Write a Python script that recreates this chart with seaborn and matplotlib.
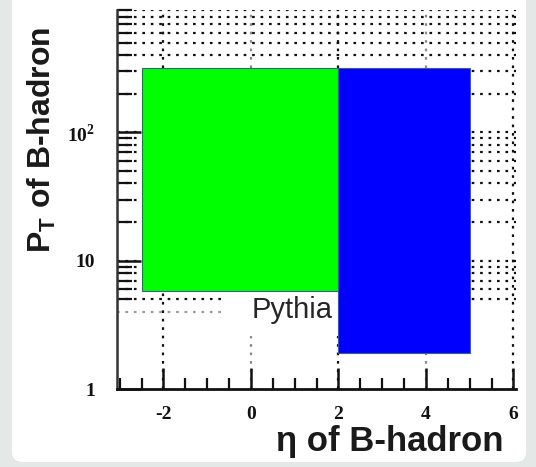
import matplotlib
matplotlib.use("Agg")
import matplotlib.pyplot as plt
from matplotlib.patches import Rectangle, FancyBboxPatch
import seaborn as sns

# Acceptance regions in (eta, pT) of the B-hadron
region_names = ["central", "forward"]
eta_low = [-2.5, 2.0]
eta_high = [2.0, 5.0]
pt_low = [5.8, 1.9]
pt_high = [320.0, 320.0]
region_colors = ["#00ff00", "#0000ff"]

x_ticks = [-2, 0, 2, 4, 6]
x_tick_labels = ["-2", "0", "2", "4", "6"]
y_ticks = [1, 10, 100]
y_tick_labels = ["1", "10", "10$^{\\mathsf{2}}$"]
legend_label = "Pythia"

sns.set_style("white")
plt.rcParams["mathtext.fontset"] = "custom"
plt.rcParams["mathtext.bf"] = "Liberation Sans:bold"
plt.rcParams["mathtext.rm"] = "Liberation Sans:bold"
plt.rcParams["mathtext.sf"] = "Liberation Serif:bold"

W, H = 536, 467
fig = plt.figure(figsize=(W / 100, H / 100), dpi=100)
fig.patch.set_facecolor("#e4e8e6")
# white rounded panel
fig.patches.append(FancyBboxPatch((12 / W, 5 / H), 514 / W, 1.2,
                                  boxstyle="round,pad=0,rounding_size=0.02",
                                  transform=fig.transFigure, fc="white", ec="none",
                                  zorder=0))

ax = fig.add_axes([117 / W, 1 - 389 / H, (516 - 117) / W, (389 - 10) / H])
ax.set_zorder(2)
ax.set_facecolor("none")
ax.set_yscale("log")
ax.set_xlim(-3.06, 6.06)
ax.set_ylim(1, 900)

# dotted grid
dot = (0, (1.2, 2.6))
for xv in x_ticks:
    c = "#111111" if xv in (-2, 2, 6) else "#8a8a8a"
    ax.axvline(xv, color=c, lw=1.6, ls=dot, zorder=0.5)
grid_vals = [5, 6, 7, 8, 9, 10, 20, 30, 40, 50, 60, 70, 80, 90,
             100, 200, 300, 400, 500, 600, 700, 800, 900]
for yv in grid_vals:
    ax.axhline(yv, color="#111111", lw=1.6, ls=dot, zorder=0.5)
ax.hlines(4, -3.06, -0.6, color="#9a9a9a", lw=1.6, ls=dot, zorder=0.5)

# acceptance boxes
for lo, hi, pl, ph, col in zip(eta_low, eta_high, pt_low, pt_high, region_colors):
    ax.bar(lo, ph - pl, width=hi - lo, bottom=pl, align="edge",
           color=col, edgecolor="#3a5f8f", linewidth=0.8, zorder=2)

# legend entry
ax.add_patch(Rectangle((-0.6, 2.6), 2.6, 3.1, fc="white", ec="none", zorder=1.5))
ax.text(0.95, 4.15, legend_label, ha="center", va="center", fontsize=21,
        family="Liberation Sans", color="#262626", zorder=3)

# axes styling
for side in ("top", "right"):
    ax.spines[side].set_visible(False)
ax.spines["left"].set_color("#333333")
ax.spines["left"].set_linewidth(1.8)
ax.spines["bottom"].set_color("#111111")
ax.spines["bottom"].set_linewidth(2.0)

ax.set_xticks(x_ticks)
ax.set_xticklabels(x_tick_labels)
ax.set_xticks([v / 2 for v in range(-6, 13) if v % 4 != 0], minor=True)
ax.set_yticks(y_ticks)
ax.set_yticklabels(y_tick_labels)
ax.set_yticks([5, 6, 7, 8, 9] + [m * 10 ** e for e in range(1, 3) for m in range(2, 10)],
              minor=True)
ax.yaxis.set_minor_formatter(matplotlib.ticker.NullFormatter())

ax.tick_params(bottom=True, left=True, which="both")
ax.tick_params(axis="x", which="major", direction="in", length=15, width=1.8,
               color="#111111", pad=12, labelsize=14)
ax.tick_params(axis="x", which="minor", direction="in", length=8, width=1.6,
               color="#111111")
ax.tick_params(axis="y", which="major", direction="in", length=17, width=1.8,
               color="#111111", pad=16, labelsize=14)
ax.tick_params(axis="y", which="minor", direction="in", length=11, width=1.6,
               color="#111111")
for lab in ax.get_xticklabels() + ax.get_yticklabels():
    lab.set_fontfamily("Liberation Serif")
    lab.set_fontweight("bold")
    lab.set_color("#111111")

fig.text(390 / W, 1 - 442 / H, "η of B-hadron", ha="center", va="center",
         fontsize=25, fontweight="bold", family="Liberation Sans", color="#1a1a1a",
         zorder=3)
fig.text(42 / W, 1 - 140 / H, "P$_\\mathbf{T}$ of B-hadron", ha="center", va="center",
         rotation=90, fontsize=23, fontweight="bold", family="Liberation Sans",
         color="#1a1a1a", zorder=3)

fig.savefig("out.png", dpi=100)
